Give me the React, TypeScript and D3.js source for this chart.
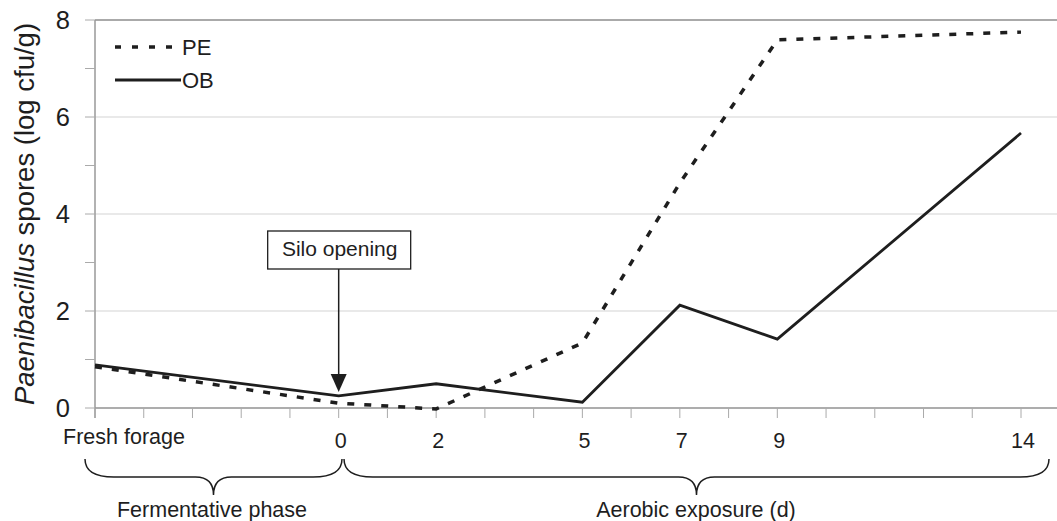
import * as d3 from "d3";
import React from "react";

// sampling points; "Fresh forage" sits five day-slots before day 0
const categories = ["Fresh forage", "0", "2", "5", "7", "9", "14"];
const days = [-5, 0, 2, 5, 7, 9, 14];
const pe = [0.85, 0.1, -0.02, 1.34, 4.64, 7.59, 7.75];
const ob = [0.89, 0.25, 0.5, 0.12, 2.12, 1.42, 5.67];
const yTicks = [0, 2, 4, 6, 8];

const W = 1057;
const H = 521;
const font = "'Liberation Sans', Arial, sans-serif";
const ink = "#1e1e1e";

// curly brace opening downwards
function brace(x1: number, x2: number, y0: number, q: number) {
  const mid = (x1 + x2) / 2;
  return `M${x1},${y0} Q${x1},${y0 + q} ${x1 + q * 1.6},${y0 + q}
    L${mid - q},${y0 + q} Q${mid},${y0 + q} ${mid},${y0 + 2 * q}
    Q${mid},${y0 + q} ${mid + q},${y0 + q}
    L${x2 - q * 1.6},${y0 + q} Q${x2},${y0 + q} ${x2},${y0}`;
}

const App: React.FC = () => {
  const x = d3.scaleLinear().domain([-5, 14]).range([95, 1021]);
  const y = d3.scaleLinear().domain([0, 8]).range([408, 20]);
  const right = W;

  const line = d3
    .line<number>()
    .x((_, i) => x(days[i]))
    .y((d) => y(d));

  const dayTicks = d3.range(-5, 15);
  const minorY = d3.range(0, 9);
  const x0 = x(0);

  return (
    <svg
      width={W}
      height={H}
      style={{ position: "absolute", left: 0, top: 0, background: "#fff" }}
      fontFamily={font}
    >
      {/* gridlines */}
      {yTicks.map((t) => (
        <line
          key={"g" + t}
          x1={x(-5)}
          x2={right}
          y1={y(t)}
          y2={y(t)}
          stroke={t === 8 ? "#aaa" : "#d4d4d4"}
          strokeWidth={t === 8 ? 2 : 1.2}
        />
      ))}

      {/* axes */}
      <line x1={x(-5)} x2={x(-5)} y1={y(8)} y2={y(0) + 10} stroke="#999" strokeWidth={1.5} />
      <line x1={x(-5)} x2={right} y1={y(0)} y2={y(0)} stroke="#999" strokeWidth={1.5} />
      {minorY.map((t) => (
        <line key={"yt" + t} x1={x(-5) - 10} x2={x(-5)} y1={y(t)} y2={y(t)} stroke="#aaa" strokeWidth={1} />
      ))}
      {dayTicks.map((d) => (
        <line key={"xt" + d} x1={x(d)} x2={x(d)} y1={y(0)} y2={y(0) + 10} stroke="#aaa" strokeWidth={1} />
      ))}

      {/* y tick labels */}
      {yTicks.map((t) => (
        <text key={"yl" + t} x={70} y={y(t) + 9} textAnchor="end" fontSize={25.5} fill={ink}>
          {t}
        </text>
      ))}

      {/* y title */}
      <text
        transform={`translate(34,${(y(0) + y(8)) / 2}) rotate(-90)`}
        textAnchor="middle"
        fontSize={27.5}
        fill={ink}
      >
        <tspan fontStyle="italic">Paenibacillus</tspan> spores (log cfu/g)
      </text>

      {/* x tick labels */}
      {categories.map((c, i) => (
        <text
          key={"xl" + c}
          x={i === 0 ? x(days[i]) + 29 : x(days[i]) + 2}
          y={i === 0 ? 444 : 448}
          textAnchor="middle"
          fontSize={21.5}
          fill={ink}
        >
          {c}
        </text>
      ))}

      {/* braces */}
      <path d={brace(85, 342, 459, 18)} fill="none" stroke={ink} strokeWidth={1.5} />
      <path d={brace(344, 1049, 459, 18)} fill="none" stroke={ink} strokeWidth={1.5} />
      <text x={212} y={517} textAnchor="middle" fontSize={21.5} fill={ink}>
        Fermentative phase
      </text>
      <text x={696} y={517} textAnchor="middle" fontSize={21.5} fill={ink}>
        Aerobic exposure (d)
      </text>

      {/* series */}
      <path d={line(pe) || ""} fill="none" stroke={ink} strokeWidth={3.5} strokeDasharray="7,10" />
      <path d={line(ob) || ""} fill="none" stroke={ink} strokeWidth={2.8} strokeLinejoin="miter" />

      {/* silo opening annotation */}
      <rect x={x0 - 71} y={231} width={143} height={38} fill="#fff" stroke={ink} strokeWidth={1.3} />
      <text x={x0 + 1} y={256} textAnchor="middle" fontSize={21} fill={ink}>
        Silo opening
      </text>
      <line x1={x0} x2={x0} y1={269} y2={y(ob[1]) - 20} stroke={ink} strokeWidth={1.5} />
      <polygon
        points={`${x0 - 8},${y(ob[1]) - 22} ${x0 + 8},${y(ob[1]) - 22} ${x0},${y(ob[1]) - 4}`}
        fill={ink}
      />

      {/* legend */}
      <line x1={115} x2={178} y1={47} y2={47} stroke={ink} strokeWidth={3.5} strokeDasharray="6,11" />
      <text x={182} y={55} fontSize={22} fill={ink}>
        PE
      </text>
      <line x1={115} x2={181} y1={80} y2={80} stroke={ink} strokeWidth={2.8} />
      <text x={182} y={88} fontSize={22} fill={ink}>
        OB
      </text>
    </svg>
  );
};

export default App;
